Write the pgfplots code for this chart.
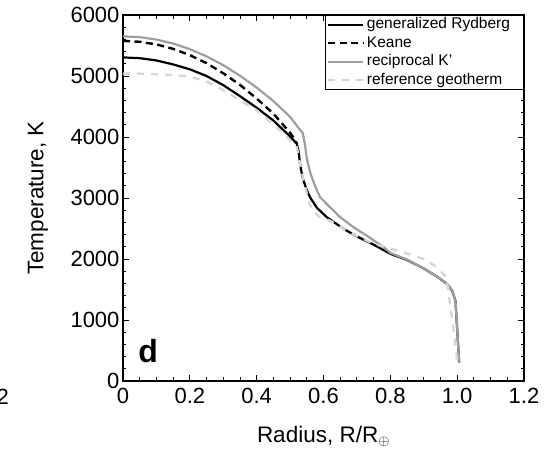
\documentclass[border=0pt]{standalone}
\usepackage{pgfplots}
\pgfplotsset{compat=1.18}
\usepackage{fontspec}
\setmainfont{Liberation Sans}
\definecolor{midgray}{RGB}{158,158,158}
\definecolor{palegray}{RGB}{214,214,214}

\begin{document}
\begin{tikzpicture}
% page = 549 x 457, axis box at (123,15)-(524,381) px
\path[use as bounding box] (-123pt,-76pt) rectangle (426pt,381pt);
\begin{axis}[
  scale only axis,
  width=401pt, height=366pt,
  xmin=0, xmax=1.2, ymin=0, ymax=6000,
  xtick={0,0.2,0.4,0.6,0.8,1.0,1.2},
  xticklabels={0,0.2,0.4,0.6,0.8,1.0,1.2},
  ytick={0,1000,2000,3000,4000,5000,6000},
  scaled y ticks=false,
  yticklabel style={/pgf/number format/1000 sep={}},
  minor x tick num=3, minor y tick num=4,
  tick align=inside, tick pos=both,
  xticklabel pos=lower, yticklabel pos=left,
  major tick length=6pt, minor tick length=3.5pt,
  every tick/.style={black, line width=0.9pt},
  axis line style={line width=1.3pt},
  tick label style={font=\fontsize{22}{26}\selectfont},
  xticklabel style={yshift=-4pt},
  /pgf/number format/assume math mode=true,
  label style={font=\fontsize{22.5}{27}\selectfont},
  xlabel={Radius, R/R$_{\oplus}$},
  ylabel={Temperature, K},
  xlabel style={at={(rel axis cs:0.5,-0.1667)}, anchor=base},
  ylabel style={at={(rel axis cs:-0.212,0.5)}, anchor=center},
  legend style={at={(rel axis cs:1,1)}, anchor=north east,
    font=\fontsize{15.5}{17}\selectfont, draw=black, line width=1pt,
    inner xsep=2pt, inner ysep=0pt, row sep=0pt,
    nodes={inner xsep=2.5pt, inner ysep=1.5pt, text height=11.5pt, text depth=4pt}},
  legend cell align=left,
  legend image code/.code={\draw[#1] (0pt,0pt) -- (35pt,0pt);},
]
\addplot[black, line width=2.2pt] coordinates {
(0,5305) (0.05,5292) (0.1,5255) (0.15,5190) (0.2,5110) (0.25,5000)
(0.3,4850) (0.35,4670) (0.4,4480) (0.45,4270) (0.5,4010) (0.52,3890)
(0.525,3780) (0.53,3560) (0.535,3400) (0.54,3290) (0.55,3130) (0.56,3010)
(0.58,2840) (0.61,2685) (0.66,2495) (0.7,2370) (0.75,2235) (0.8,2085)
(0.85,1985) (0.9,1845) (0.94,1710) (0.97,1590) (0.985,1480) (0.995,1310)
(1.006,300)};
\addlegendentry{generalized Rydberg\hspace*{9pt}}
\addplot[black, line width=2.4pt, dash pattern=on 7pt off 4.5pt] coordinates {
(0,5575) (0.05,5561) (0.1,5518) (0.15,5445) (0.2,5342) (0.25,5210)
(0.3,5045) (0.35,4855) (0.4,4630) (0.45,4383) (0.5,4070) (0.515,3950)
(0.52,3890)};
\addlegendentry{Keane}
\addplot[midgray, line width=2.2pt] coordinates {
(0,5650) (0.05,5637) (0.1,5597) (0.15,5532) (0.2,5440) (0.25,5322)
(0.3,5177) (0.35,5005) (0.4,4810) (0.45,4590) (0.5,4330) (0.53,4115)
(0.538,4065) (0.545,3860) (0.55,3650) (0.56,3420) (0.575,3190) (0.59,3013)
(0.61,2900) (0.65,2685) (0.69,2520) (0.73,2380) (0.78,2195) (0.8,2100)
(0.85,1990) (0.9,1845) (0.94,1710) (0.97,1590) (0.985,1480) (0.995,1310)
(1.006,300)};
\addlegendentry{reciprocal K'}
\addplot[palegray, line width=2.4pt, dash pattern=on 7pt off 7pt] coordinates {
(0,5040) (0.05,5038) (0.1,5030) (0.15,5015) (0.2,4990) (0.25,4910)
(0.3,4770) (0.35,4600) (0.4,4440) (0.43,4290) (0.47,4110) (0.5,3945)
(0.52,3840) (0.53,3560) (0.54,3300) (0.55,3080) (0.56,2880) (0.57,2780)
(0.59,2680) (0.61,2650) (0.63,2600) (0.66,2495) (0.7,2375) (0.75,2250)
(0.79,2190) (0.85,2090) (0.9,2000) (0.94,1865) (0.968,1700) (0.979,1260)
(0.988,876) (0.998,438) (1.0,300)};
\addlegendentry{reference geotherm}
\node[font=\fontsize{32}{36}\selectfont\bfseries] at (axis cs:0.075,493) {d};
\end{axis}
% last digit of the neighbouring panel's tick label, cut by the page edge
\node[anchor=north east, inner sep=0pt, font=\fontsize{22}{26}\selectfont,
  xshift=-114pt, yshift=-8pt] at (current axis.south west) {2};
\end{tikzpicture}
\end{document}
